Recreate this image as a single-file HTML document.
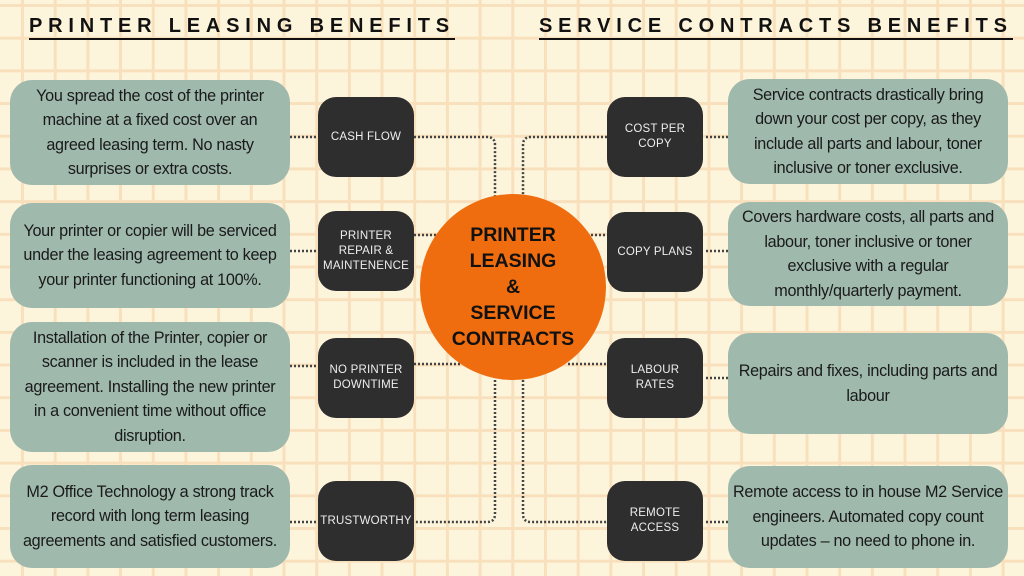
<!DOCTYPE html>
<html><head><meta charset="utf-8"><style>
body{margin:0;width:1024px;height:576px;overflow:hidden;font-family:"Liberation Sans","DejaVu Sans",sans-serif;
background-color:#fdf4dc;
background-image:linear-gradient(to right,#f9e0bd 3px,transparent 3px),linear-gradient(to bottom,#f9e0bd 3px,transparent 3px);
background-size:32.7px 32.7px;background-position:21px 4px;position:relative}
.t{position:absolute;top:14px;font-weight:bold;font-size:20px;letter-spacing:5.8px;border-bottom:2px solid #111;line-height:24px;color:#111;white-space:nowrap}
.b{position:absolute;background:#9fb9ad;border-radius:22px;display:flex;align-items:center;justify-content:center;text-align:center;font-size:16.2px;line-height:24.5px;color:#1a1a1a;box-sizing:border-box;padding:0;white-space:nowrap;letter-spacing:-0.3px}
.d{position:absolute;width:96px;height:80px;background:#2e2e2e;border-radius:18px;color:#eee;font-size:11.5px;line-height:15px;display:flex;align-items:center;justify-content:center;text-align:center;letter-spacing:.2px}
.c{position:absolute;left:420px;top:194px;width:186px;height:186px;border-radius:50%;background:#ef6d0e;display:flex;align-items:center;justify-content:center;text-align:center;font-weight:bold;font-size:19.5px;line-height:26px;color:#111}
svg{position:absolute;left:0;top:0}
</style></head><body>
<svg width="1024" height="576"><g fill="none" stroke="#444" stroke-width="2.5" stroke-dasharray="2 2">
<path d="M290 137H318M290 251H318M290 366H318M290 522H318"/>
<path d="M706 137H728M706 251H728M706 378H728M706 522H728"/>
<path d="M414 137H487Q495 137 495 145V196"/>
<path d="M607 137H531Q523 137 523 145V196"/>
<path d="M414 235H440M414 364H460M583 235H607M568 364H607"/>
<path d="M495 380V514Q495 522 487 522H414"/>
<path d="M523 380V514Q523 522 531 522H607"/>
</g></svg>
<div class="t" style="left:29px">PRINTER LEASING BENEFITS</div>
<div class="t" style="left:539px">SERVICE CONTRACTS BENEFITS</div>
<div class="b" style="left:10px;top:80px;width:280px;height:105px">You spread the cost of the printer<br>machine at a fixed cost over an<br>agreed leasing term. No nasty<br>surprises or extra costs.</div>
<div class="b" style="left:10px;top:203px;width:280px;height:105px">Your printer or copier will be serviced<br>under the leasing agreement to keep<br>your printer functioning at 100%.</div>
<div class="b" style="left:10px;top:322px;width:280px;height:130px">Installation of the Printer, copier or<br>scanner is included in the lease<br>agreement. Installing the new printer<br>in a convenient time without office<br>disruption.</div>
<div class="b" style="left:10px;top:465px;width:280px;height:103px">M2 Office Technology a strong track<br>record with long term leasing<br>agreements and satisfied customers.</div>
<div class="b" style="left:728px;top:79px;width:280px;height:105px">Service contracts drastically bring<br>down your cost per copy, as they<br>include all parts and labour, toner<br>inclusive or toner exclusive.</div>
<div class="b" style="left:728px;top:202px;width:280px;height:104px">Covers hardware costs, all parts and<br>labour, toner inclusive or toner<br>exclusive with a regular<br>monthly/quarterly payment.</div>
<div class="b" style="left:728px;top:333px;width:280px;height:101px">Repairs and fixes, including parts and<br>labour</div>
<div class="b" style="left:728px;top:466px;width:280px;height:102px">Remote access to in house M2 Service<br>engineers. Automated copy count<br>updates – no need to phone in.</div>
<div class="d" style="left:318px;top:97px">CASH FLOW</div>
<div class="d" style="left:318px;top:211px">PRINTER<br>REPAIR &amp;<br>MAINTENENCE</div>
<div class="d" style="left:318px;top:338px">NO PRINTER<br>DOWNTIME</div>
<div class="d" style="left:318px;top:481px">TRUSTWORTHY</div>
<div class="d" style="left:607px;top:97px">COST PER<br>COPY</div>
<div class="d" style="left:607px;top:212px">COPY PLANS</div>
<div class="d" style="left:607px;top:338px">LABOUR<br>RATES</div>
<div class="d" style="left:607px;top:481px">REMOTE<br>ACCESS</div>
<div class="c">PRINTER<br>LEASING<br>&amp;<br>SERVICE<br>CONTRACTS</div>
</body></html>
